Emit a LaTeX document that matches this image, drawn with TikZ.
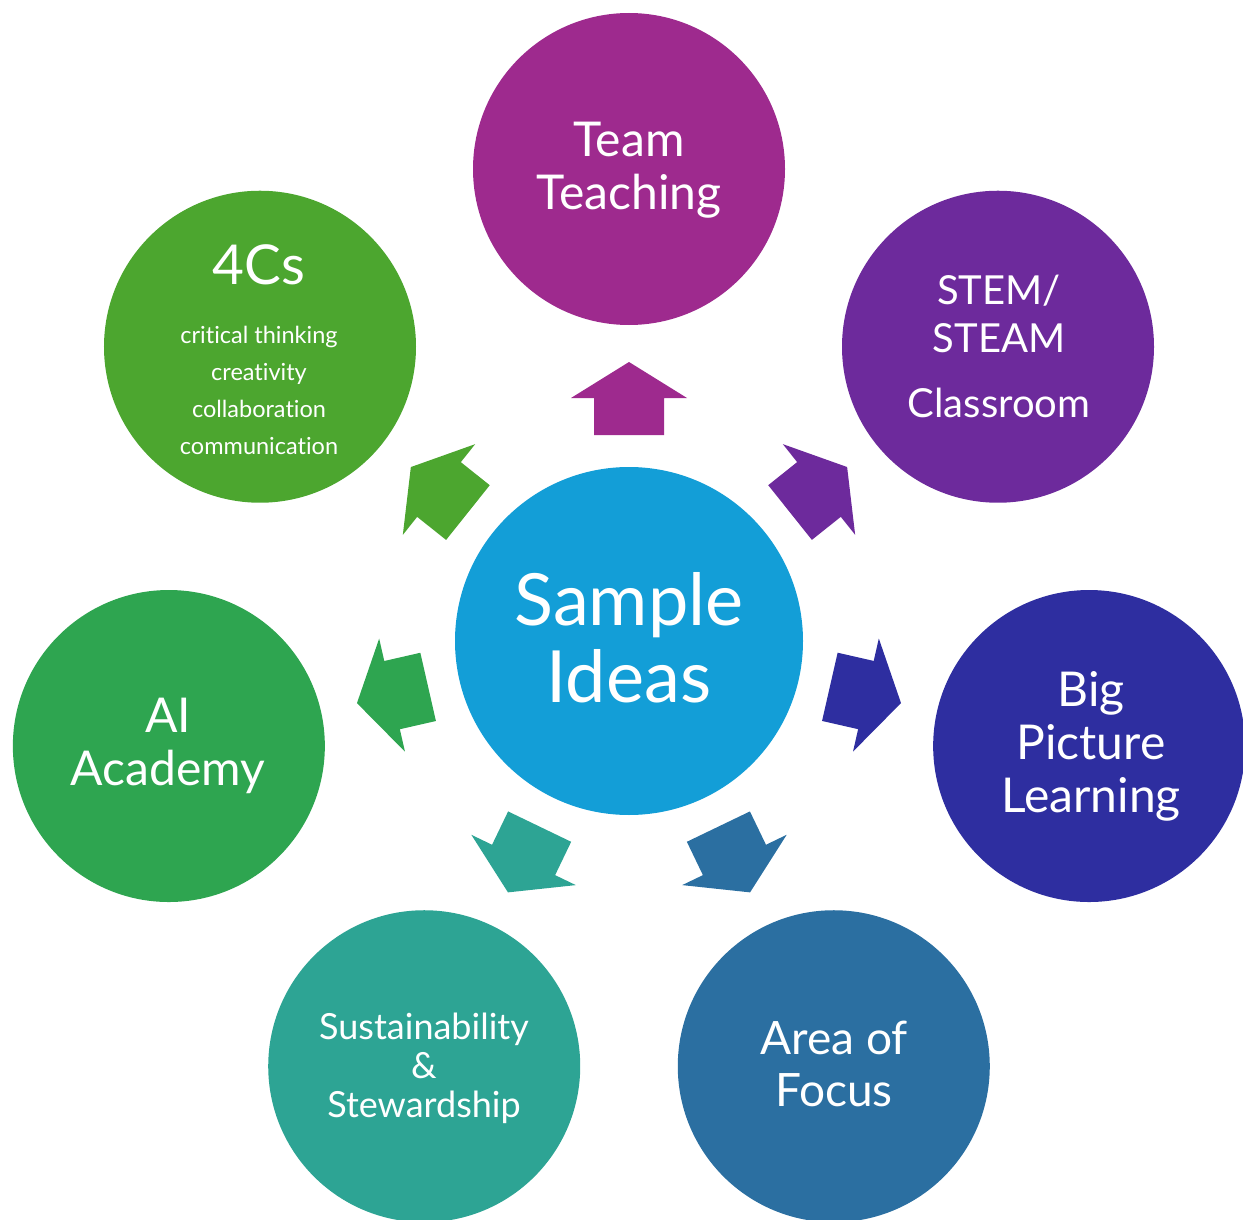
\documentclass[tikz,border=0pt]{standalone}
\usepackage{fontspec}
\setmainfont[Ligatures=NoCommon]{Lato}
\usetikzlibrary{calc}
\definecolor{cCenter}{HTML}{139ED7}
\definecolor{cTeam}{HTML}{9E2A8E}
\definecolor{cStem}{HTML}{6D2A9C}
\definecolor{cBig}{HTML}{2E2EA0}
\definecolor{cArea}{HTML}{2B6FA1}
\definecolor{cSust}{HTML}{2DA494}
\definecolor{cAI}{HTML}{2EA550}
\definecolor{cFour}{HTML}{4CA62F}
\begin{document}
\begin{tikzpicture}[x=1pt,y=-1pt,
  bubble/.style={circle,minimum size=312pt,inner sep=0pt,fill=#1},
  hub/.style={circle,minimum size=348pt,inner sep=0pt,fill=cCenter},
  label/.style={text=white,align=center,inner sep=0pt},
  blockarrow/.style={fill=#1}]
\useasboundingbox (0,0) rectangle (1243,1220);
\clip (0,0) rectangle (1243,1220);
\coordinate (c) at (629,641);
% outer bubbles
\node[bubble=cTeam] (team) at ($(c)+(-90:472)$) {};
\node[bubble=cStem] (stem) at ($(c)+(-38.571:472)$) {};
\node[bubble=cBig]  (big)  at ($(c)+(12.857:472)$) {};
\node[bubble=cArea] (area) at ($(c)+(64.286:472)$) {};
\node[bubble=cSust] (sust) at ($(c)+(115.714:472)$) {};
\node[bubble=cAI]   (ai)   at ($(c)+(167.143:472)$) {};
\node[bubble=cFour] (four) at ($(c)+(218.571:472)$) {};
\node[hub] (hubnode) at (c) {};
% block arrows
\foreach \k/\col in {0/cTeam,1/cStem,2/cBig,3/cArea,4/cSust,5/cAI,6/cFour}{
  \fill[blockarrow=\col, rotate around={-\k*51.4286:(c)}]
    ($(c)+(-35,-206)$) -- ($(c)+(-35,-243)$) -- ($(c)+(-58,-243)$) --
    ($(c)+(0,-279)$) -- ($(c)+(58,-243)$) -- ($(c)+(35,-243)$) --
    ($(c)+(35,-206)$) -- cycle;
}
% texts
\node[label,font=\fontsize{72}{77}\selectfont] (hubtext) at (629,638) {Sample\\Ideas};
\node[label,font=\fontsize{48}{53}\selectfont] (teamtext) at (629,170) {Team\\Teaching};
\node[label,font=\fontsize{40}{48}\selectfont] (stemtext) at (999,346) {STEM/\\STEAM\\[17pt]Classroom};
\node[label,font=\fontsize{48}{53}\selectfont] (bigtext) at (1091,746) {Big\\Picture\\Learning};
\node[label,font=\fontsize{46}{52}\selectfont] (areatext) at (834,1064) {Area of\\Focus};
\node[label,font=\fontsize{36}{39}\selectfont] (susttext) at (424,1068) {Sustainability\\\&\\Stewardship};
\node[label,font=\fontsize{48}{53}\selectfont] (aitext) at (168,746) {AI\\Academy};
\node[label,font=\fontsize{55}{60}\selectfont] (fourtitle) at (259,265) {4Cs};
\node[label,font=\fontsize{23.5}{37}\selectfont] (fourtext) at (259,390) {critical thinking\\creativity\\collaboration\\communication};
\end{tikzpicture}
\end{document}
